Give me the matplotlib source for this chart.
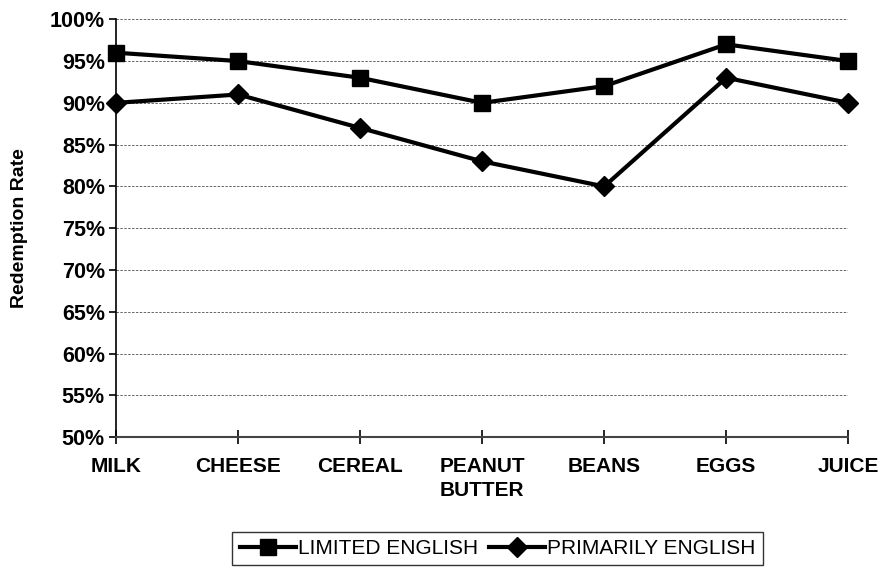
import matplotlib
matplotlib.use("Agg")
import matplotlib.pyplot as plt
from matplotlib.ticker import PercentFormatter

categories = ["MILK", "CHEESE", "CEREAL", "PEANUT\nBUTTER", "BEANS", "EGGS", "JUICE"]
limited_english = [96, 95, 93, 90, 92, 97, 95]
primarily_english = [90, 91, 87, 83, 80, 93, 90]
y_ticks = [50, 55, 60, 65, 70, 75, 80, 85, 90, 95, 100]

plt.rcParams["font.family"] = ["Liberation Sans", "DejaVu Sans"]

fig = plt.figure(figsize=(8.79, 5.67), dpi=100)
ax = fig.add_axes([0.132, 0.229, 0.833, 0.737])

x = range(len(categories))
ax.plot(x, limited_english, color="black", lw=3, marker="s", ms=11,
        label="LIMITED ENGLISH", clip_on=False, zorder=3)
ax.plot(x, primarily_english, color="black", lw=3, marker="D", ms=10,
        label="PRIMARILY ENGLISH", clip_on=False, zorder=3)

ax.set_xlim(0, len(categories) - 1)
ax.set_ylim(50, 100)
ax.set_yticks(y_ticks)
ax.yaxis.set_major_formatter(PercentFormatter(decimals=0))
ax.set_xticks(list(x))
ax.set_xticklabels(categories, fontsize=15, fontweight="bold", linespacing=1.35)
for lbl in ax.get_yticklabels():
    lbl.set_fontweight("bold")
ax.tick_params(axis="y", labelsize=15.5, direction="out", length=5, width=1.2, pad=3)
ax.tick_params(axis="x", direction="inout", length=10, width=1.2, pad=9)

ax.set_ylabel("Redemption Rate", fontsize=14, fontweight="bold")
ax.yaxis.set_label_coords(-0.12, 0.5)

ax.grid(axis="y", color="#666666", linestyle=(0, (2.5, 1.5)), linewidth=0.7)
ax.set_axisbelow(True)
for side in ["top", "right"]:
    ax.spines[side].set_visible(False)
ax.spines["left"].set_linewidth(1.2)
ax.spines["bottom"].set_linewidth(1.5)
ax.spines["bottom"].set_color("#444444")

leg = fig.legend(loc="upper center", bbox_to_anchor=(0.566, 0.062), ncol=2,
                 frameon=True, fancybox=False, edgecolor="black", fontsize=15,
                 handlelength=2.7, columnspacing=0.5, handletextpad=0.1,
                 borderpad=0.35, borderaxespad=0)
leg.get_frame().set_linewidth(1.0)

fig.savefig("out.png", dpi=100)
